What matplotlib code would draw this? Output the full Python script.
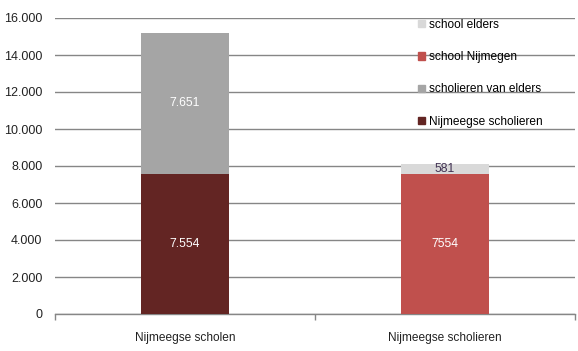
import matplotlib
matplotlib.use('Agg')
import matplotlib.pyplot as plt
from matplotlib.patches import Patch, Rectangle
from matplotlib.ticker import FuncFormatter

# ── Data ───────────────────────────────────────────────
categories = ['Nijmeegse scholen', 'Nijmeegse scholieren']
nijmeegse_scholieren = [7554, 0]
scholieren_van_elders = [7651, 0]
school_nijmegen = [0, 7554]
school_elders = [0, 581]
y_ticks = list(range(0, 16001, 2000))

# ── Colours ───────────────────────────────────────────
C_DARK = '#632523'
C_GRAY = '#a5a5a5'
C_RED = '#c0504d'
C_LIGHT = '#d9d9d9'
GRID = '#868686'

plt.rcParams['font.family'] = ['Liberation Sans', 'DejaVu Sans']

fig = plt.figure(figsize=(5.78, 3.51), dpi=100)
ax = fig.add_axes([55 / 578, 1 - 314 / 351, 520 / 578, 296 / 351])

x = [0, 1]
w = 0.335
ax.bar(x[0], nijmeegse_scholieren[0], w, color=C_DARK, zorder=3)
ax.bar(x[0], scholieren_van_elders[0], w, bottom=nijmeegse_scholieren[0], color=C_GRAY, zorder=3)
ax.bar(x[1], school_nijmegen[1], w, color=C_RED, zorder=3)
ax.bar(x[1], school_elders[1], w, bottom=school_nijmegen[1], color=C_LIGHT, zorder=3)

# value labels
def nl(v):
    return f'{v:,}'.replace(',', '.')

lbl = dict(ha='center', va='center', fontsize=8.8, zorder=4)
ax.text(x[0], nijmeegse_scholieren[0] / 2, nl(nijmeegse_scholieren[0]), color='white', **lbl)
ax.text(x[0], nijmeegse_scholieren[0] + scholieren_van_elders[0] / 2,
        nl(scholieren_van_elders[0]), color='white', **lbl)
ax.text(x[1], school_nijmegen[1] / 2, str(school_nijmegen[1]), color='white', **lbl)
ax.text(x[1], school_nijmegen[1] + school_elders[1] / 2, str(school_elders[1]),
        color='#403152', **lbl)

ax.set_xlim(-0.5, 1.5)
ax.set_ylim(0, 16000)
ax.set_yticks(y_ticks)
ax.yaxis.set_major_formatter(FuncFormatter(lambda v, p: nl(int(v))))
ax.set_xticks(x)
ax.set_xticklabels(categories)
ax.set_xticks([-0.5, 0.5, 1.5], minor=True)
ax.tick_params(axis='x', which='major', length=0, pad=13, labelsize=8.6, labelcolor='#222222')
ax.tick_params(axis='x', which='minor', length=4, direction='out', color=GRID, width=1)
ax.tick_params(axis='y', length=0, pad=9, labelsize=9, labelcolor='#222222')

ax.grid(axis='y', color=GRID, linewidth=1, zorder=0)
for s in ['top', 'right', 'left']:
    ax.spines[s].set_visible(False)
ax.spines['bottom'].set_color(GRID)
ax.spines['bottom'].set_linewidth(1)

# white legend area hiding the gridlines behind it
ax.add_patch(Rectangle((0.656, 0.6), 0.325, 0.45, transform=ax.transAxes,
                       facecolor='white', edgecolor='none', zorder=1, clip_on=False))

handles = [Patch(color=C_LIGHT, label='school elders'),
           Patch(color=C_RED, label='school Nijmegen'),
           Patch(color=C_GRAY, label='scholieren van elders'),
           Patch(color=C_DARK, label='Nijmeegse scholieren')]
leg = ax.legend(handles=handles, loc='upper left', bbox_to_anchor=(0.698, 0.997),
                frameon=False, fontsize=8.6, labelspacing=1.7, handlelength=0.58,
                handleheight=0.58, handletextpad=0.35, borderpad=0, borderaxespad=0)
leg.set_zorder(5)

fig.savefig('out.png', dpi=100, facecolor='white')
